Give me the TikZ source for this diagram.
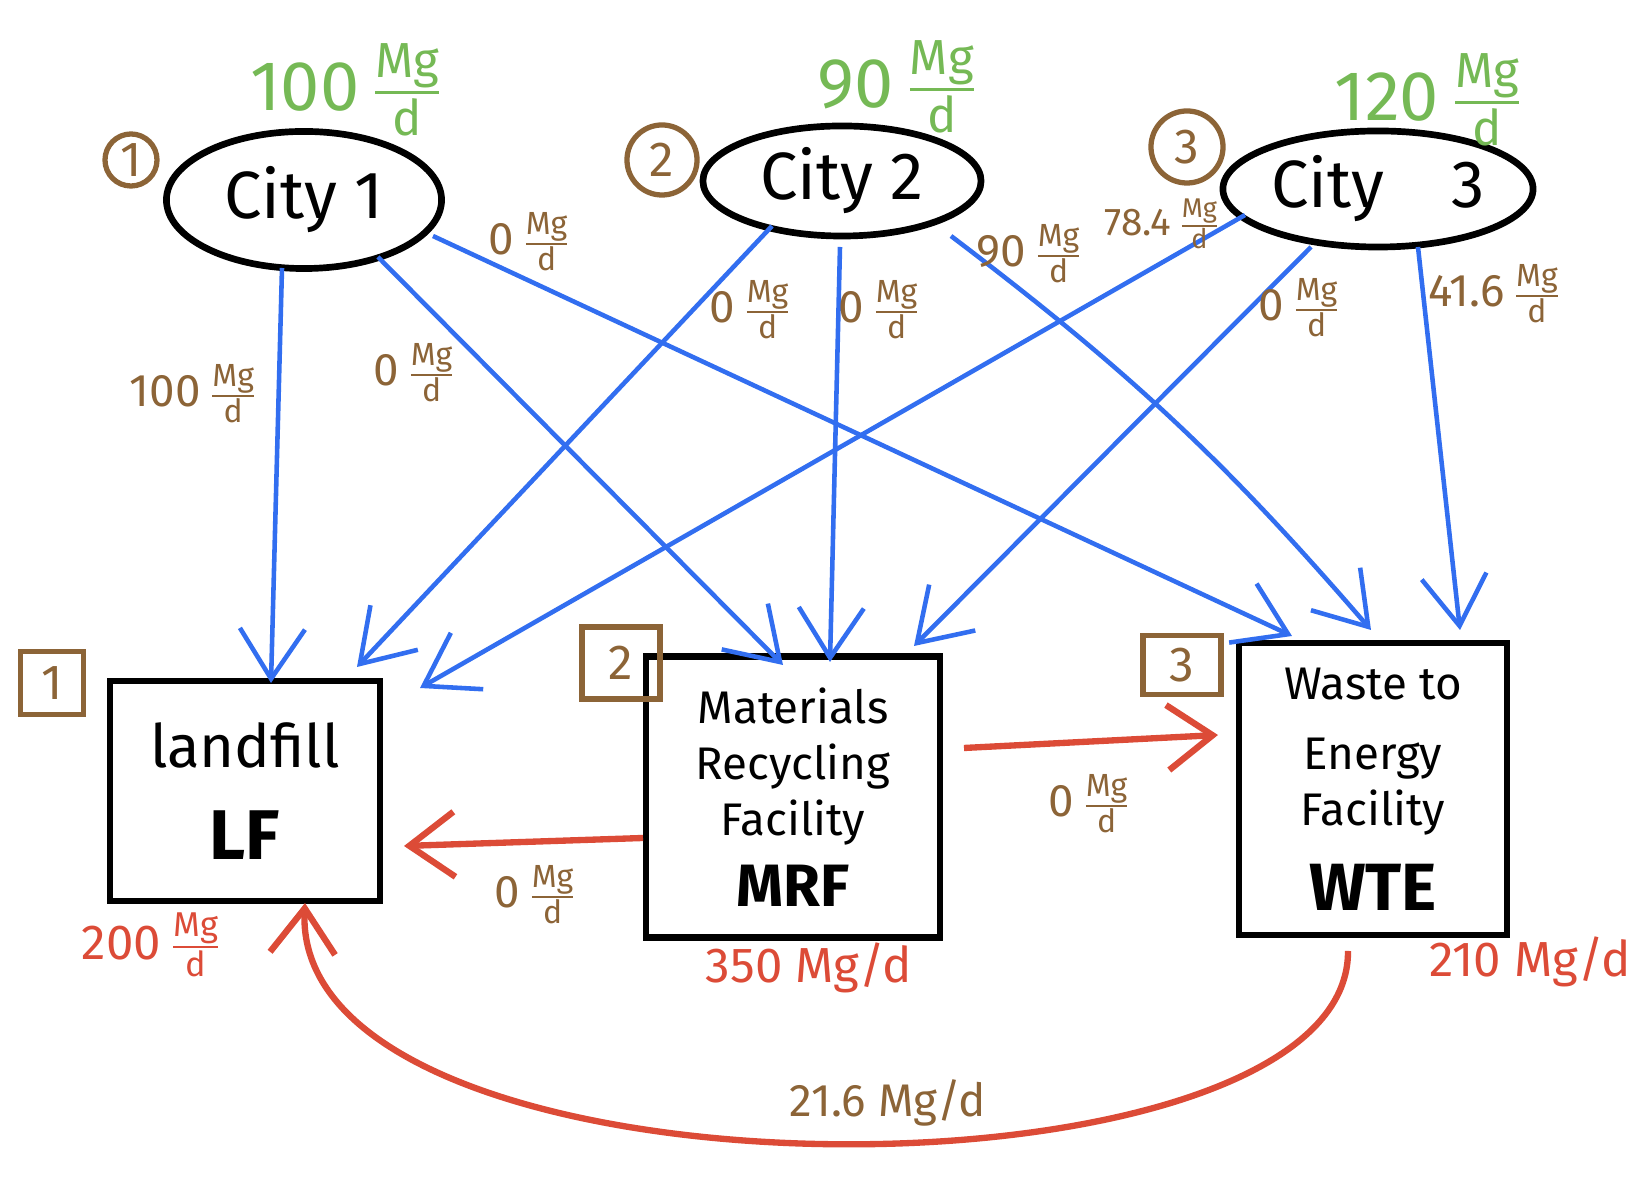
\documentclass[tikz,border=0pt]{standalone}
\usepackage{amsmath}
\usepackage{fontspec}
\setmainfont{Fira Sans}
\usetikzlibrary{shapes.geometric,arrows.meta,calc}
\definecolor{flowblue}{RGB}{50,110,240}
\definecolor{flowred}{RGB}{220,75,55}
\definecolor{labelbrown}{RGB}{140,100,55}
\definecolor{supplygreen}{RGB}{117,185,85}
\newcommand{\mgd}{$\frac{\text{Mg}}{\text{d}}$}
\begin{document}
\begin{tikzpicture}[x=0.01cm,y=-0.01cm,
	city/.style={draw,ellipse,line width=1.9pt,inner sep=0pt,font=\fontsize{19}{23}\selectfont},
	facility/.style={draw,line width=1.9pt,inner sep=0pt,align=center,font=\fontsize{13}{16}\selectfont},
	tag/.style={draw=labelbrown,text=labelbrown,line width=1.5pt,inner sep=0pt,font=\fontsize{14}{16}\selectfont},
	flow/.style={flowblue,line width=1.3pt,-{Straight Barb[length=5mm,width=6.5mm]}},
	back/.style={flowred,line width=1.8pt,-{Straight Barb[length=4.5mm,width=6.5mm]}},
	amount/.style={text=labelbrown,font=\fontsize{13}{15}\selectfont},
	supply/.style={text=supplygreen,font=\fontsize{20}{24}\selectfont},
	total/.style={text=flowred,font=\fontsize{14}{17}\selectfont}]
	\useasboundingbox (0,0) rectangle (1647,1186);
	\node[city,minimum width=2.75cm,minimum height=1.37cm] (c1) at (304,200) {City 1};
	\node[city,minimum width=2.78cm,minimum height=1.1cm] (c2) at (842,181) {City 2};
	\node[city,minimum width=3.1cm,minimum height=1.16cm] (c3) at (1378,189) {City\quad 3};
	\node[tag,circle,minimum size=0.52cm] (t1) at (131,160) {1};
	\node[tag,circle,minimum size=0.7cm] (t2) at (662,160) {2};
	\node[tag,circle,minimum size=0.72cm] (t3) at (1187,147) {3};
	\node[supply] (sup1) at (347,90) {100\,\mgd};
	\node[supply] (sup2) at (898,87) {90\,\mgd};
	\node[supply] (sup3) at (1429,100) {120\,\mgd};
	\node[facility,minimum width=2.7cm,minimum height=2.2cm] (lf) at (245,791)
		{{\fontsize{17}{20}\selectfont landfill}\\[10pt]{\fontsize{20}{24}\selectfont\bfseries LF}};
	\node[facility,minimum width=2.94cm,minimum height=2.81cm] (mrf) at (793,797)
		{Materials\\Recycling\\Facility\\[4pt]{\fontsize{17}{20}\selectfont\bfseries MRF}};
	\node[facility,minimum width=2.68cm,minimum height=2.92cm] (wte) at (1373,789)
		{Waste to\\[4pt]Energy\\Facility\\[8pt]{\fontsize{19}{22}\selectfont\bfseries WTE}};
	\node[tag,minimum width=0.63cm,minimum height=0.63cm] (s1) at (52,683) {1};
	\node[tag,minimum width=0.78cm,minimum height=0.72cm] (s2) at (621,663) {2};
	\node[tag,minimum width=0.78cm,minimum height=0.59cm] (s3) at (1182,665) {3};
	\draw[flow] ($(c1)+(-22,68)$) -- ($(lf)+(26,-108)$);
	\draw[flow] ($(c1)+(74,57)$) -- ($(mrf)+(-10,-132)$);
	\draw[flow] ($(c1)+(129,36)$) -- ($(wte)+(-81,-153)$);
	\draw[flow] ($(c2)+(-70,45)$) -- ($(lf)+(112,-124)$);
	\draw[flow] ($(c2)+(-2,66)$) -- ($(mrf)+(37,-135)$);
	\draw[flow] ($(c2)+(109,55)$) to[bend left=6] ($(wte)+(-2,-159)$);
	\draw[flow] ($(c3)+(-133,26)$) -- ($(lf)+(175,-103)$);
	\draw[flow] ($(c3)+(-67,58)$) -- ($(mrf)+(121,-151)$);
	\draw[flow] ($(c3)+(40,58)$) -- ($(wte)+(87,-159)$);
	\draw[back] ($(mrf)+(171,-49)$) -- ($(wte)+(-155,-54)$);
	\draw[back] ($(mrf)+(-150,41)$) -- ($(lf)+(159,55)$);
	\draw[back] ($(wte)+(-25,162)$) .. controls (1350,1215) and (290,1215) .. ($(lf)+(60,112)$);
	\node[amount] (a11) at (194,394) {100\,\mgd};
	\node[amount] (a12) at (415,373) {0\,\mgd};
	\node[amount] (a13) at (530,242) {0\,\mgd};
	\node[amount] (a21) at (751,310) {0\,\mgd};
	\node[amount] (a22) at (880,310) {0\,\mgd};
	\node[amount] (a23) at (1030,254) {90\,\mgd};
	\node[amount,font=\fontsize{11}{13}\selectfont] (a31) at (1163,224) {78.4\,\mgd};
	\node[amount] (a32) at (1300,308) {0\,\mgd};
	\node[amount] (a33) at (1495,294) {41.6\,\mgd};
	\node[amount] (mrflf) at (536,895) {0\,\mgd};
	\node[amount] (mrfwte) at (1090,804) {0\,\mgd};
	\node[amount] (wtelf) at (888,1103) {21.6 Mg/d};
	\node[total] (lfsum) at (152,945) {200\,\mgd};
	\node[total] (mrfsum) at (809,968) {350 Mg/d};
	\node[total] (wtesum) at (1530,962) {210 Mg/d};
\end{tikzpicture}
\end{document}
